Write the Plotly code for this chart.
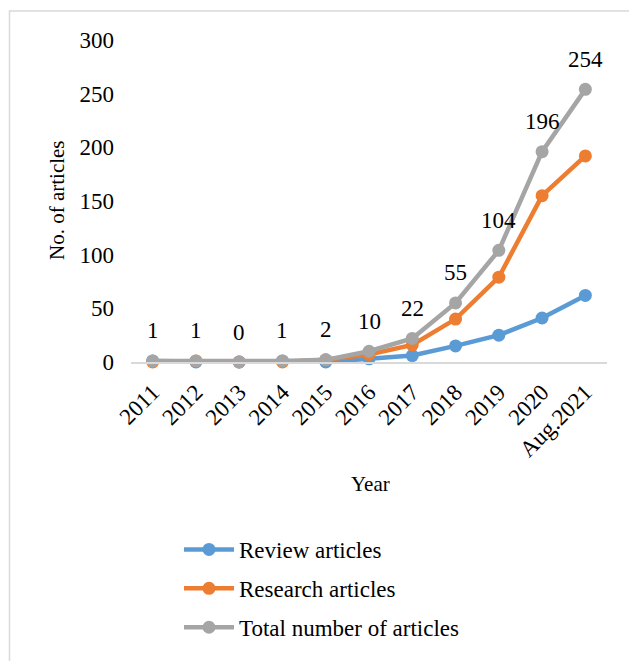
import plotly.graph_objects as go

years = ["2011", "2012", "2013", "2014", "2015", "2016", "2017", "2018", "2019", "2020", "Aug.2021"]
review = [1, 0, 0, 1, 0, 3, 6, 15, 25, 41, 62]
research = [0, 1, 0, 0, 2, 7, 16, 40, 79, 155, 192]
total = [1, 1, 0, 1, 2, 10, 22, 55, 104, 196, 254]

series = [
    ("Review articles", review, "#5B9BD5"),
    ("Research articles", research, "#ED7D31"),
    ("Total number of articles", total, "#A5A5A5"),
]

FONT = "Liberation Serif, Times New Roman, serif"
H = 661
T = 40
PAPER_H = H - T  # margin b = 0


def py(pixel_y):
    """paper y for a pixel row (paper spans from T to H)."""
    return (H - pixel_y) / PAPER_H


def px(pixel_x):
    return (pixel_x - 131) / 476


fig = go.Figure()
for i, (name, vals, col) in enumerate(series):
    fig.add_trace(go.Scatter(
        x=years, y=vals, name=name, mode="lines+markers",
        line=dict(color=col, width=4.5),
        marker=dict(color=col, size=13),
        legendgroup=str(i),
        cliponaxis=False,
    ))

annotations = []
for idx, v in enumerate(total):
    annotations.append(dict(x=idx, y=v, xref="x", yref="y", text=str(v),
                            showarrow=False, yshift=30,
                            font=dict(family=FONT, size=23, color="#000")))
annotations.append(dict(x=px(57), y=py(200), xref="paper", yref="paper",
                        text="No. of articles", textangle=-90, showarrow=False,
                        xanchor="center", yanchor="middle",
                        font=dict(family=FONT, size=21, color="#000")))
annotations.append(dict(x=px(370), y=py(484), xref="paper", yref="paper",
                        text="Year", showarrow=False,
                        xanchor="center", yanchor="middle",
                        font=dict(family=FONT, size=21, color="#000")))

fig.update_layout(
    width=629, height=H,
    margin=dict(l=131, r=22, t=T, b=0),
    paper_bgcolor="white", plot_bgcolor="white",
    font=dict(family=FONT, size=23, color="#000"),
    showlegend=True,
    legend=dict(orientation="v", x=px(179), y=py(528),
                xanchor="left", yanchor="top",
                font=dict(family=FONT, size=23, color="#000"),
                tracegroupgap=6, itemwidth=50, bgcolor="rgba(0,0,0,0)"),
    xaxis=dict(type="category", range=[-0.5, 10.5], tickangle=-45,
               showline=True, linecolor="#D9D9D9", linewidth=1.5,
               showgrid=False, zeroline=False, ticks="", automargin=False,
               ticklabelstandoff=6,
               tickfont=dict(family=FONT, size=23, color="#000")),
    yaxis=dict(range=[0, 300], dtick=50, showgrid=False, zeroline=False,
               domain=[py(362), 1], automargin=False,
               showline=False, ticks="", ticklabelstandoff=16,
               tickfont=dict(family=FONT, size=23, color="#000")),
    annotations=annotations,
    shapes=[dict(type="rect", xref="paper", yref="paper",
                 x0=px(9.5), x1=1.2,
                 y0=-0.2, y1=py(11),
                 line=dict(color="#D9D9D9", width=1.5), layer="below")],
)

fig.write_html("out.html")
